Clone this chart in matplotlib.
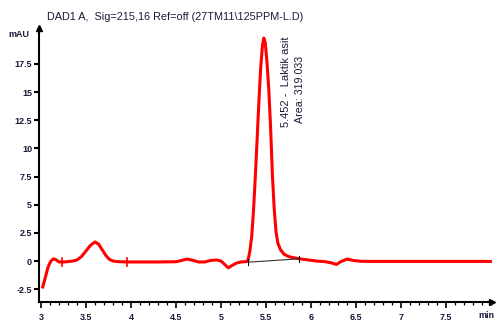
import matplotlib
matplotlib.use('agg')
import matplotlib.pyplot as plt
from matplotlib.ticker import MultipleLocator
from matplotlib.transforms import blended_transform_factory

plt.rcParams['font.family'] = ['Liberation Sans', 'DejaVu Sans']

# retention time (min) and signal (mAU)
time_min = [3.02, 3.05, 3.08, 3.11, 3.14, 3.17, 3.20, 3.25, 3.30, 3.35,
            3.40, 3.45, 3.50, 3.55, 3.60, 3.64, 3.68, 3.72, 3.76, 3.80,
            3.85, 3.95, 4.10, 4.30, 4.50, 4.56, 4.62, 4.68, 4.75, 4.82,
            4.88, 4.95, 5.00, 5.04, 5.08, 5.12, 5.17, 5.22, 5.28, 5.30,
            5.32, 5.34, 5.36, 5.38, 5.40, 5.42, 5.44, 5.46, 5.475, 5.49,
            5.51, 5.53, 5.55, 5.57, 5.59, 5.61, 5.63, 5.66, 5.70, 5.75,
            5.80, 5.87, 5.95, 6.06, 6.15, 6.22, 6.28, 6.33, 6.40, 6.47,
            6.55, 6.70, 7.00, 7.30, 7.60, 7.99]
signal_mau = [-2.3, -1.4, -0.5, 0.0, 0.2, 0.1, -0.08, -0.08, -0.05, 0.0,
              0.1, 0.4, 0.9, 1.4, 1.7, 1.5, 1.0, 0.5, 0.15, 0.0,
              -0.05, -0.08, -0.08, -0.08, -0.06, 0.05, 0.18, 0.08, -0.08, -0.08,
              0.05, 0.1, 0.0, -0.3, -0.6, -0.4, -0.18, -0.08, -0.05, 0.1,
              0.9, 2.2, 4.5, 7.5, 10.8, 14.2, 17.2, 19.2, 19.8, 19.4,
              17.6, 15.2, 11.8, 7.6, 4.6, 2.6, 1.6, 1.0, 0.6, 0.4,
              0.3, 0.2, 0.12, 0.0, -0.05, -0.15, -0.3, -0.05, 0.18, 0.05,
              -0.02, -0.03, -0.03, -0.03, -0.03, -0.03]

# integration baseline of the main peak
base_x = [5.30, 5.87]
base_y = [-0.1, 0.2]

# integration event marks
event_x = [3.23, 3.95]
event_y = [-0.08, -0.08]

peak_rt = 5.452
peak_name = 'Laktik asit'
peak_area = 319.033

title = 'DAD1 A,  Sig=215,16 Ref=off (27TM11\\125PPM-L.D)'

fig = plt.figure(figsize=(4.98, 3.21), dpi=100)
ax = fig.add_axes([0.0783, 0.059, 0.91, 0.854])

ax.plot(time_min, signal_mau, color='#ff0000', lw=2.2, solid_joinstyle='round')
ax.plot(base_x, base_y, color='#333333', lw=0.8)
for ex, ey in zip(event_x, event_y):
    ax.plot([ex, ex], [ey - 0.35, ey + 0.35], color='#ff0000', lw=1.2)
for bx, by in zip(base_x, base_y):
    ax.plot([bx, bx], [by - 0.25, by + 0.25], color='black', lw=0.8)

ax.set_xlim(2.978, 8.01)
ax.set_ylim(-3.64, 20.7)

for s in ['top', 'right']:
    ax.spines[s].set_visible(False)
for s in ['left', 'bottom']:
    ax.spines[s].set_linewidth(1.5)

# arrow heads on the axes
ax.plot(1, 0, '>', color='black', ms=5, transform=ax.transAxes, clip_on=False)
ax.plot(0, 1, '^', color='black', ms=5, transform=ax.transAxes, clip_on=False)

ax.set_xticks([3, 3.5, 4, 4.5, 5, 5.5, 6, 6.5, 7, 7.5])
ax.set_xticklabels(['3', '3.5', '4', '4.5', '5', '5.5', '6', '6.5', '7', '7.5'])
ax.xaxis.set_minor_locator(MultipleLocator(0.1))
ax.set_yticks([-2.5, 0, 2.5, 5, 7.5, 10, 12.5, 15, 17.5])
ax.set_yticklabels(['-2.5', '0', '2.5', '5', '7.5', '10', '12.5', '15', '17.5'])

ax.tick_params(axis='x', which='major', length=4, width=1.2, pad=4,
               labelsize=6.5, labelcolor='#1a1a3a')
ax.tick_params(axis='x', which='minor', length=2.2, width=0.9)
ax.tick_params(axis='y', which='major', length=3.5, width=1.5, pad=1.5,
               labelsize=6.5, labelcolor='#1a1a3a')
for lab in ax.get_xticklabels() + ax.get_yticklabels():
    lab.set_fontweight('bold')

trans = blended_transform_factory(ax.transData, ax.transAxes)
ax.annotate('min', xy=(7.95, 0), xycoords=trans, xytext=(0, -6.5),
            textcoords='offset points', ha='center', va='top',
            fontsize=6.5, fontweight='bold', color='#1a1a3a')

fig.text(0.094, 0.947, title, ha='left', va='center', fontsize=7.8, color='#1a1a3a')
fig.text(0.016, 0.894, 'mAU', ha='left', va='center', fontsize=6.5,
         fontweight='bold', color='#1a1a3a')

ax.text(5.72, 11.9, f'{peak_rt} -  {peak_name}', rotation=90, ha='center',
        va='bottom', fontsize=8, color='#1a1a3a')
ax.text(5.88, 12.3, f'Area: {peak_area:.3f}', rotation=90, ha='center',
        va='bottom', fontsize=7.7, color='#1a1a3a')

plt.savefig('out.png', dpi=100)
